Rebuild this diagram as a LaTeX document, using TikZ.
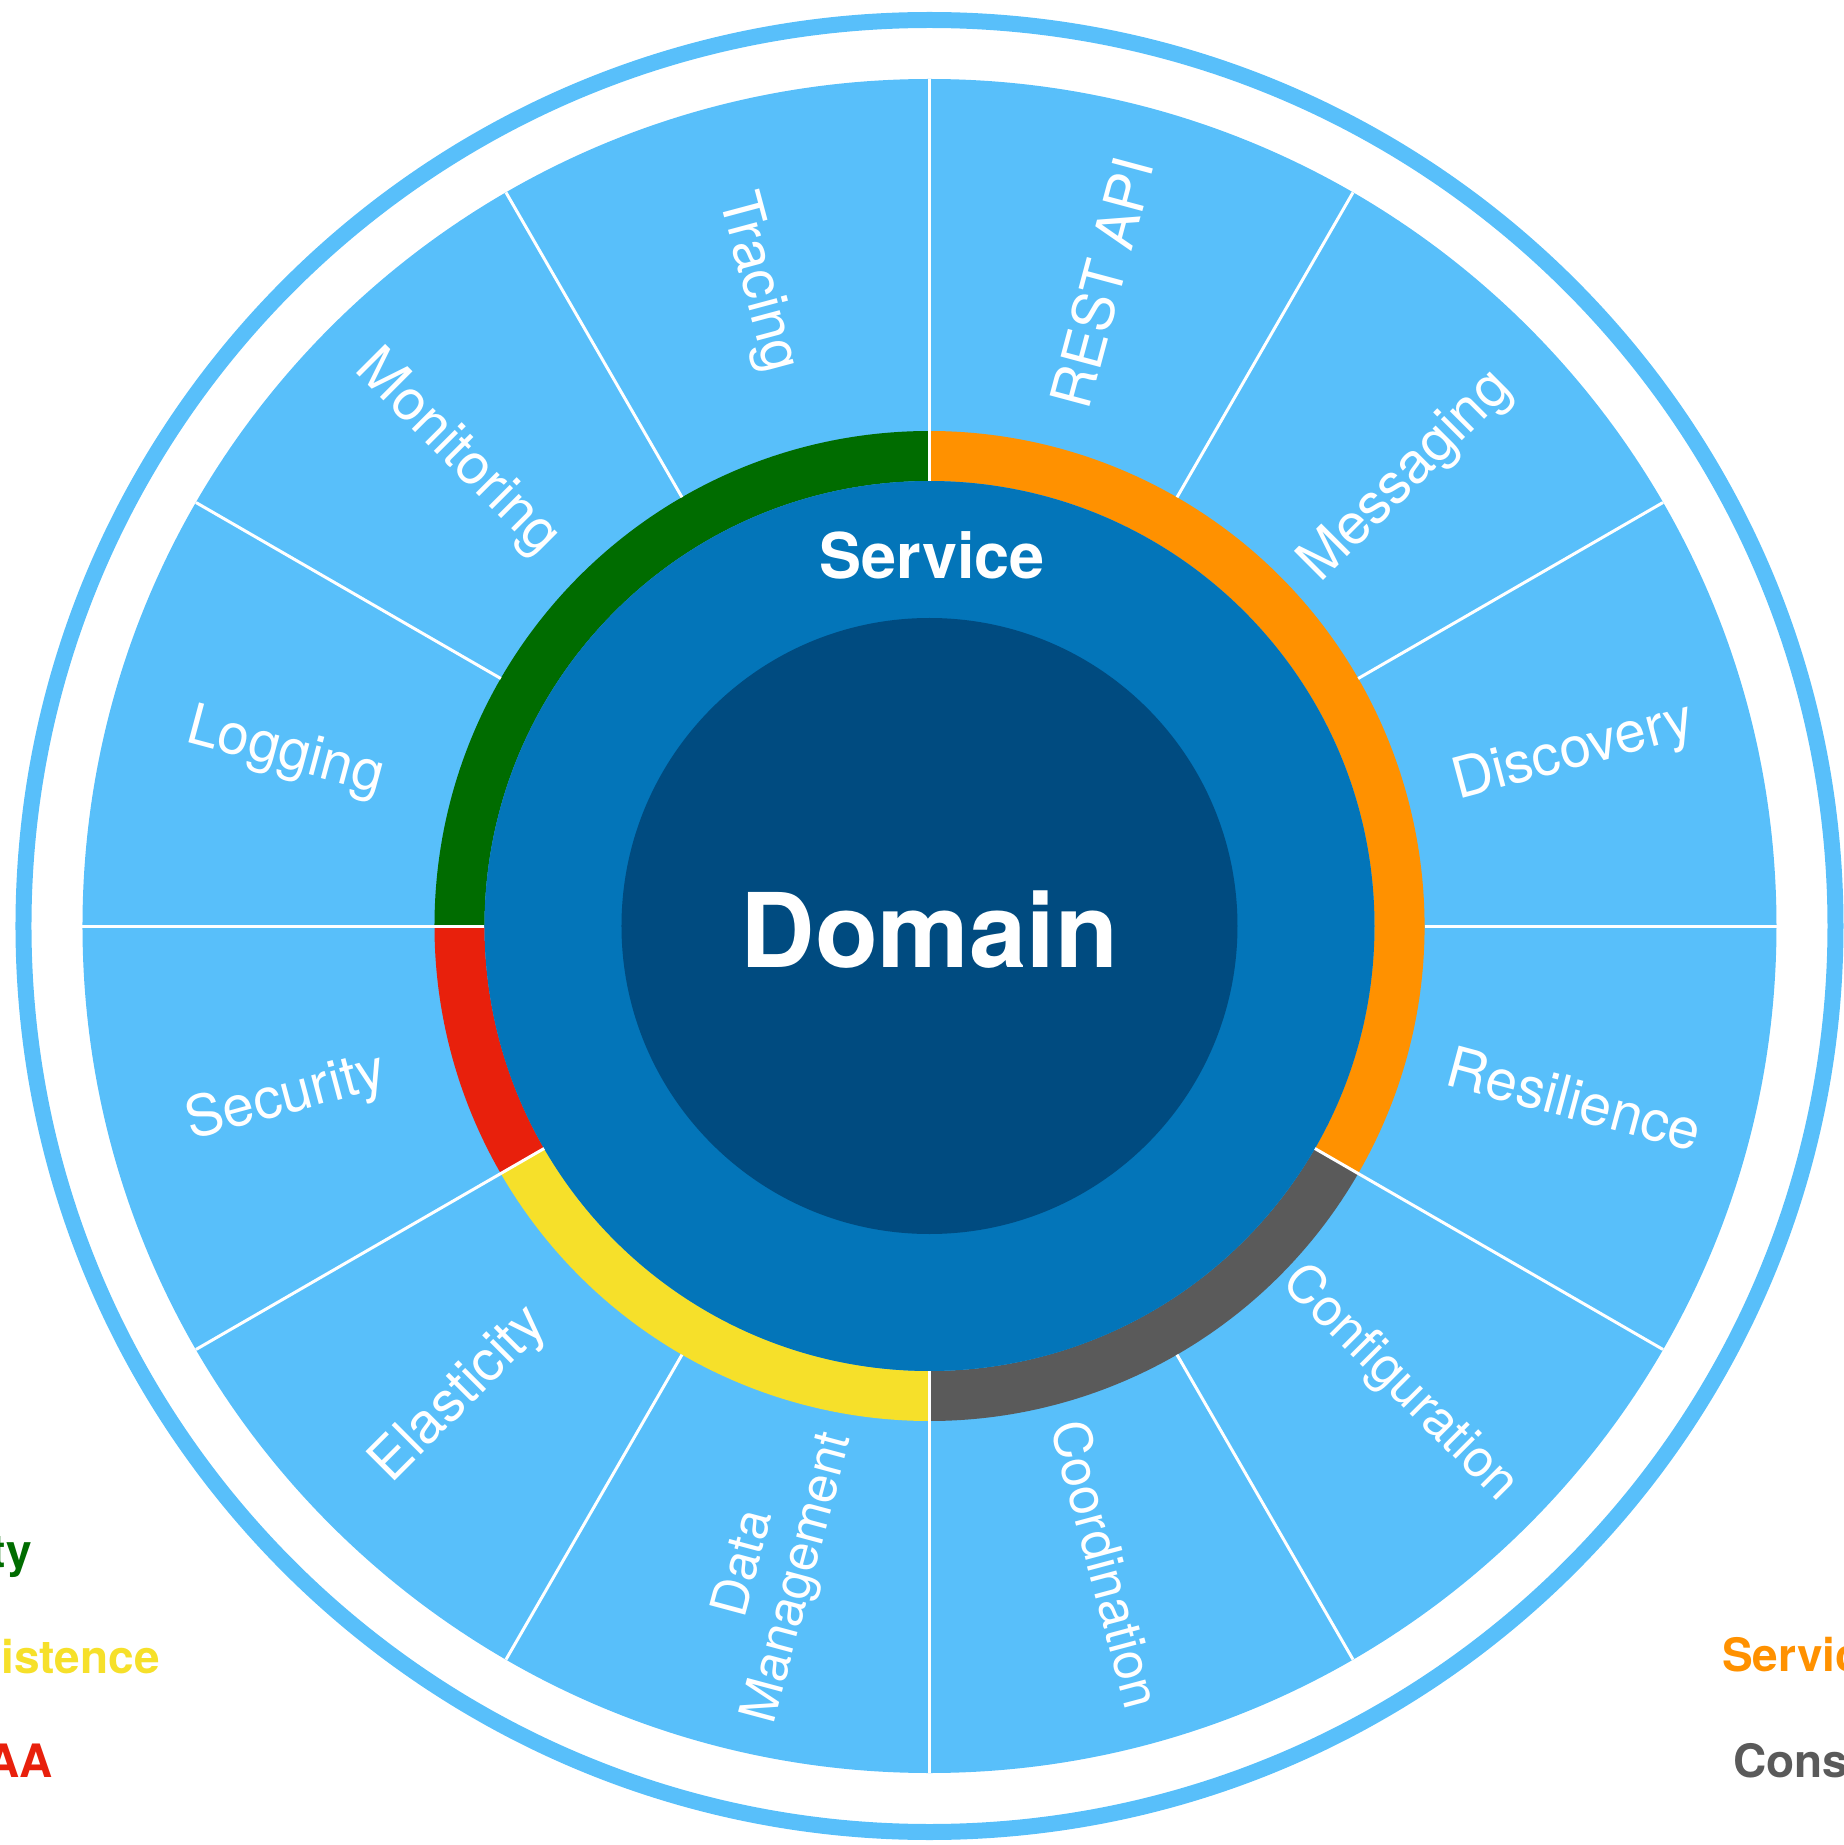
\documentclass[tikz,border=0pt]{standalone}
\usepackage{fontspec}
\setmainfont{TeX Gyre Heros}
\definecolor{lightblue}{RGB}{88,191,250}
\definecolor{serviceblue}{RGB}{3,117,185}
\definecolor{domainblue}{RGB}{0,75,128}
\definecolor{ringgreen}{RGB}{0,108,0}
\definecolor{ringorange}{RGB}{255,145,0}
\definecolor{ringred}{RGB}{232,32,12}
\definecolor{ringyellow}{RGB}{246,224,42}
\definecolor{ringgray}{RGB}{90,90,90}
\tikzset{
  sepline/.style={white, line width=3},
  seglabel/.style={text=white, inner sep=0, align=center, font=\fontsize{56.5}{60}\selectfont},
  smalllabel/.style={seglabel, font=\fontsize{52}{58}\selectfont},
  legendtext/.style={inner sep=0, font=\bfseries\fontsize{46}{50}\selectfont},
}
\begin{document}
\begin{tikzpicture}[x=1pt,y=1pt]
\useasboundingbox (-929.5,-919) rectangle (914.5,926);
\clip (-929.5,-919) rectangle (914.5,926);
% outer ring and segment disk
\draw[lightblue, line width=16] (0,0) circle (906);
\fill[lightblue] (0,0) circle (847);
% coloured ring
\fill[ringgreen]  (90:495) arc (90:180:495) -- (180:445) arc (180:90:445) -- cycle;
\fill[ringred]    (180:495) arc (180:210:495) -- (210:445) arc (210:180:445) -- cycle;
\fill[ringyellow] (210:495) arc (210:270:495) -- (270:445) arc (270:210:445) -- cycle;
\fill[ringgray]   (270:495) arc (270:330:495) -- (330:445) arc (330:270:445) -- cycle;
\fill[ringorange] (-30:495) arc (-30:90:495) -- (90:445) arc (90:-30:445) -- cycle;
% service and domain disks
\fill[serviceblue] (0,0) circle (445);
\fill[domainblue] (0,0) circle (308);
% separators
\foreach \a in {0,30,60,120,150,240,300}{
  \draw[sepline] (\a:495) -- (\a:847);
}
\foreach \a in {90,180,210,270,330}{
  \draw[sepline] (\a:445) -- (\a:847);
}
% centre texts
\node[text=white, inner sep=0, font=\bfseries\fontsize{103}{110}\selectfont] (domain) at (0,-4) {Domain};
\node[text=white, inner sep=0, font=\bfseries\fontsize{63}{70}\selectfont] (service) at (2.5,370.5) {Service};
% segment labels
\node[seglabel, rotate=15]  (discovery) at (15:667) {Discovery};
\node[seglabel, rotate=45]  (messaging) at (477,449) {Messaging};
\node[seglabel, rotate=75]  (restapi) at (75:666) {REST API};
\node[seglabel, rotate=-75] (tracing) at (105:666) {Tracing};
\node[seglabel, rotate=-45] (monitoring) at (135:668) {Monitoring};
\node[seglabel, rotate=-15] (logging) at (165:667) {Logging};
\node[seglabel, rotate=15]  (security) at (195:666) {Security};
\node[seglabel, rotate=45]  (elasticity) at (225:664) {Elasticity};
\node[smalllabel, rotate=75, font=\fontsize{51}{56}\selectfont] (datamgmt) at (-157,-645) {Data\\Management};
\node[smalllabel, rotate=-75] (coordination) at (177,-638) {Coordination};
\node[smalllabel, rotate=-45] (configuration) at (470,-458) {Configuration};
\node[seglabel, rotate=-15] (resilience) at (345:668) {Resilience};
% legend fragments (cut by the picture edge)
\node[legendtext, text=ringgreen, anchor=base east] (lgreen) at (-897.5,-641) {ty};
\node[legendtext, text=ringyellow, anchor=base east] (lyellow) at (-769.5,-747) {istence};
\node[legendtext, text=ringred, anchor=base east] (lred) at (-876.5,-851) {AA};
\node[legendtext, text=ringorange, anchor=base west] (lorange) at (792.5,-745) {Servic};
\node[legendtext, text=ringgray, anchor=base west] (lgray) at (803.5,-851) {Cons};
\end{tikzpicture}
\end{document}
